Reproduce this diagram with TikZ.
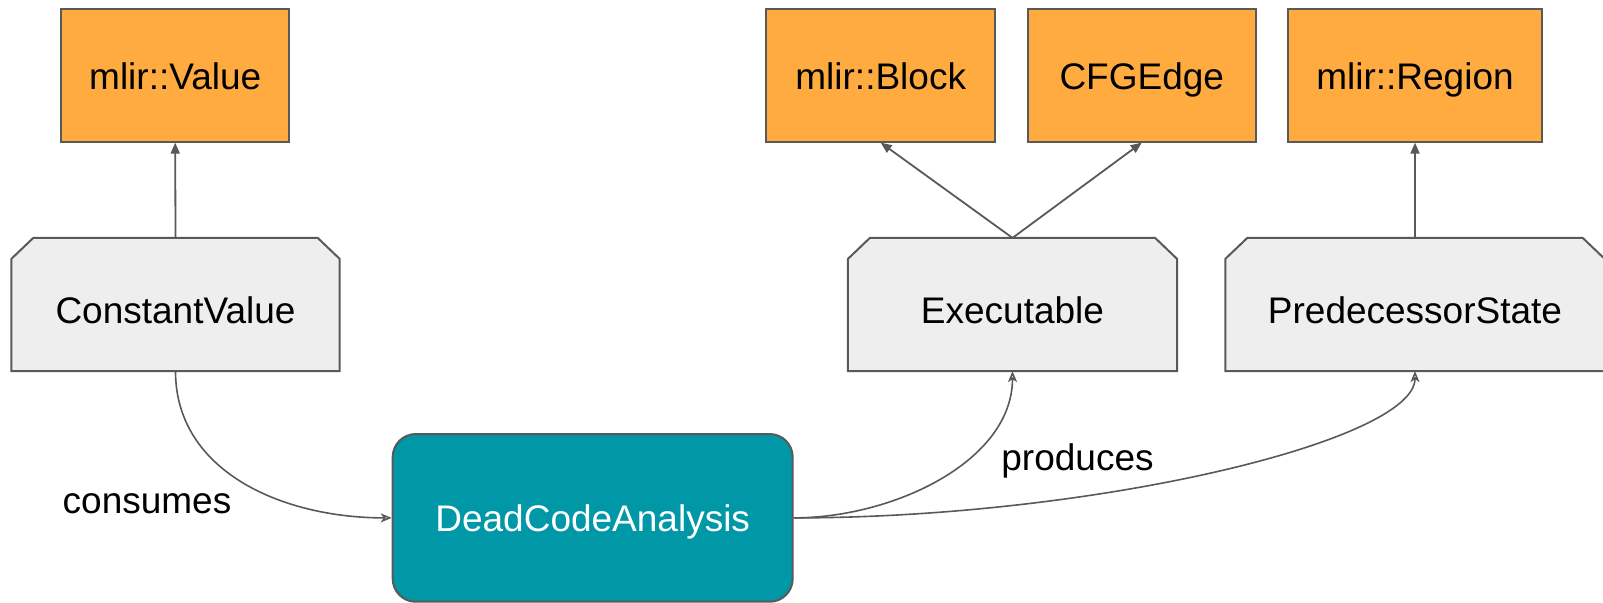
\documentclass[tikz,border=0pt]{standalone}
\usepackage{fontspec}
\setmainfont{Liberation Sans}
\usetikzlibrary{arrows.meta,backgrounds}

\definecolor{boxline}{HTML}{595959}
\definecolor{typefill}{HTML}{FFAB40}
\definecolor{statefill}{HTML}{EEEEEE}
\definecolor{analysisfill}{HTML}{0097A7}

% outline of a state box: rectangle with its two upper corners cut off
\newcommand\chamferoutline[1]{%
  \filldraw[stateshape]
    ([xshift=11pt]#1.north west) -- ([xshift=-11pt]#1.north east)
    -- ([yshift=-10.5pt]#1.north east) -- (#1.south east)
    -- (#1.south west) -- ([yshift=-10.5pt]#1.north west) -- cycle;}

\begin{document}
\begin{tikzpicture}[x=0.5pt,y=-0.5pt,
  every node/.style={font=\fontsize{18.5}{22}\selectfont, inner sep=0pt},
  typebox/.style={draw=boxline, line width=1pt, fill=typefill,
    minimum height=66.35pt, text height=14.7pt, text depth=0pt},
  statebox/.style={rectangle, minimum height=66.2pt,
    text height=19.5pt, text depth=0pt},
  stateshape/.style={draw=boxline, line width=1pt, fill=statefill},
  analysis/.style={draw=boxline, line width=1pt, fill=analysisfill,
    rounded corners=11.5pt, text=white, text height=13.8pt, text depth=0pt},
  note/.style={text=black},
  link/.style={draw=boxline, line width=0.9pt,
    -{Triangle[length=5.5pt,width=4.5pt]}},
  flow/.style={draw=boxline, line width=0.8pt,
    -{Stealth[open,length=5.5pt,width=4.5pt,inset=1.5pt]}},
]
\useasboundingbox (0,0) rectangle (1603,603);

% value and CFG types
\node[typebox, minimum width=114.15pt] (val) at (175.2,75.3) {mlir::Value};
\node[typebox, minimum width=114.7pt]  (blk) at (880.7,75.3) {mlir::Block};
\node[typebox, minimum width=114.25pt] (cfg) at (1141.75,75.3) {CFGEdge};
\node[typebox, minimum width=127.3pt]  (reg) at (1415,75.3) {mlir::Region};

% analysis states
\node[statebox, minimum width=163.8pt] (cv) at (175.5,304.5) {ConstantValue};
\node[statebox, minimum width=164.2pt] (exe) at (1012.5,304.5) {Executable};
\node[statebox, minimum width=189.3pt] (pred) at (1415,304.5) {PredecessorState};
\begin{scope}[on background layer]
  \chamferoutline{cv}
  \chamferoutline{exe}
  \chamferoutline{pred}
\end{scope}

% the analysis itself
\node[analysis, minimum width=200pt, minimum height=83.85pt] (dca) at (592.7,517.9) {DeadCodeAnalysis};

% edge captions
\node[note] (cons) at (147,504) {consumes};
\node[note] (prod) at (1077.5,461) {produces};

% state -> anchor type
\draw[link] (cv.north) -- (val.south);
\draw[link] (exe.north) -- (blk.south);
\draw[link] (exe.north) -- (cfg.south);
\draw[link] (pred.north) -- (reg.south);

% data flow through the analysis
\draw[flow] (cv.south) .. controls +(0,100) and +(-110,0) .. (dca.west);
\draw[flow] (dca.east) .. controls +(100,0) and +(0,90) .. (exe.south);
\draw[flow] (dca.east) .. controls +(300,0) and +(0,70) .. (pred.south);
\end{tikzpicture}
\end{document}
